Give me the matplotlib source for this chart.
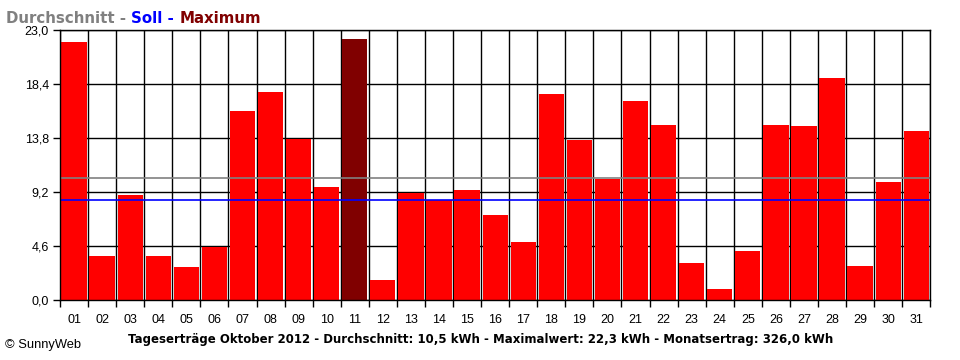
import matplotlib
matplotlib.use("Agg")
import matplotlib.pyplot as plt
import numpy as np

days = ["01","02","03","04","05","06","07","08","09","10","11","12","13","14","15","16",
        "17","18","19","20","21","22","23","24","25","26","27","28","29","30","31"]
values = [22.0, 3.78, 8.97, 3.78, 2.84, 4.57, 16.13, 17.75, 13.77, 9.65, 22.3, 1.73,
          9.17, 8.52, 9.40, 7.27, 4.97, 17.58, 13.66, 10.36, 16.98, 14.94, 3.18, 0.97,
          4.20, 14.94, 14.85, 18.94, 2.92, 10.08, 14.42]
average = 10.4
soll = 8.52
y_ticks = [0.0, 4.6, 9.2, 13.8, 18.4, 23.0]
y_tick_labels = ["0,0", "4,6", "9,2", "13,8", "18,4", "23,0"]
legend_parts = [("Durchschnitt - ", "#808080"), ("Soll - ", "#0000FF"), ("Maximum", "#800000")]
footer = "Tageserträge Oktober 2012 - Durchschnitt: 10,5 kWh - Maximalwert: 22,3 kWh - Monatsertrag: 326,0 kWh"
copyright_text = "© SunnyWeb"

plt.rcParams['font.family'] = ['Liberation Sans', 'DejaVu Sans']

fig = plt.figure(figsize=(9.6, 3.6), dpi=100)
ax = fig.add_axes([60/960, 59.67/360, 870.3/960, 270/360])

x = np.arange(len(values))
imax = int(np.argmax(values))
colors = ["#800000" if i == imax else "#FF0000" for i in range(len(values))]
ax.bar(x, values, width=0.9, color=colors, zorder=3, linewidth=0)

ax.axhline(average, color="#808080", lw=1.2, zorder=4)
ax.axhline(soll, color="#0000FF", lw=1.2, zorder=4)

ax.set_xlim(-0.5, len(values) - 0.5)
ax.set_ylim(0, 23.0)
ax.set_yticks(y_ticks)
ax.set_yticklabels(y_tick_labels, fontsize=9)
ax.set_xticks(x)
ax.set_xticklabels(days, fontsize=9)
ax.set_xticks(np.arange(-0.5, len(values) + 0.5, 1), minor=True)
ax.tick_params(axis='x', which='major', length=0, pad=10)
ax.tick_params(axis='x', which='minor', length=5, width=1, direction='out', color='black')
ax.tick_params(axis='y', which='major', length=5, width=1, direction='out', pad=3)
ax.grid(True, axis='y', which='major', color='black', lw=1.0, zorder=1)
ax.grid(True, axis='x', which='minor', color='black', lw=1.0, zorder=1)
ax.set_axisbelow(True)
for s in ax.spines.values():
    s.set_color('black')
    s.set_linewidth(1.0)
    s.set_zorder(5)

fig.canvas.draw()
renderer = fig.canvas.get_renderer()

def fit_size(text, target_w, base=9, **kw):
    t = fig.text(0, 0, text, fontsize=base, **kw)
    w = t.get_window_extent(renderer=renderer).width
    t.remove()
    return base * target_w / w

# colored legend text at top
legend_full = "".join(p[0] for p in legend_parts)
lsize = fit_size(legend_full, 254, fontweight='bold', family='DejaVu Sans')
xpos = 6
for txt, col in legend_parts:
    t = fig.text(xpos/960, 1 - 18.5/360, txt, color=col, fontsize=lsize, fontweight='bold',
                 ha='left', va='center', family='DejaVu Sans')
    bb = t.get_window_extent(renderer=renderer)
    xpos += bb.width

fsize = fit_size(footer, 706, fontweight='bold', family='DejaVu Sans')
fig.text(481/960, 1 - 339/360, footer, fontsize=fsize, fontweight='bold', ha='center',
         va='center', family='DejaVu Sans')
csize = fit_size(copyright_text, 76)
fig.text(5/960, 1 - 345/360, copyright_text, fontsize=csize, ha='left', va='center')

fig.savefig("out.png", dpi=100)
